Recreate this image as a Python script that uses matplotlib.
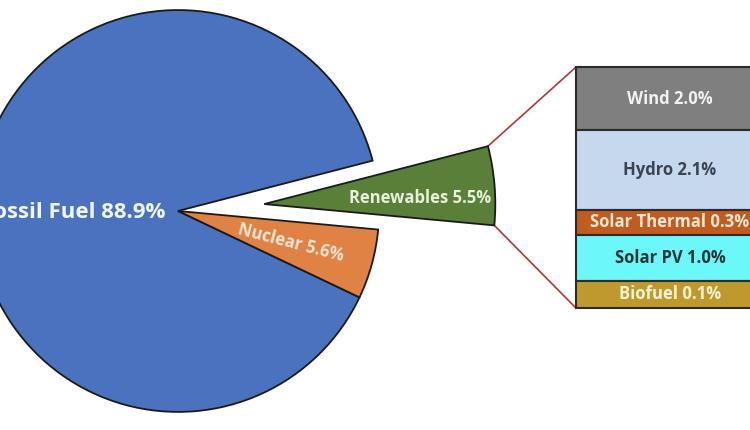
import numpy as np
import matplotlib.pyplot as plt

plt.rcParams['font.family'] = ['Open Sans', 'DejaVu Sans']

# main pie
sources = ['Fossil Fuel', 'Nuclear', 'Renewables']
source_share = [88.9, 5.6, 5.5]
source_colors = ['#4A72BE', '#E08244', '#5A7F38']
source_text_colors = ['#F4F7FF', '#FBE7D8', '#E6F2DA']

# renewables breakdown (top to bottom), shares in %
parts = ['Wind', 'Hydro', 'Solar Thermal', 'Solar PV', 'Biofuel']
part_share = [2.0, 2.1, 0.3, 1.0, 0.1]
# drawn band heights (not proportional to share)
part_band = [63, 79, 25, 46, 27]
part_colors = ['#7F7F7F', '#C6D8EE', '#C25B1E', '#6CF8F8', '#BE9A2E']
part_text_colors = ['#F2F2F2', '#3A4350', '#FBE9D6', '#1E3436', '#FFF3D6']

fig = plt.figure(figsize=(7.5, 4.3), dpi=100)
ax = fig.add_axes([0, 0, 1, 1])

wedges, _ = ax.pie(source_share, colors=source_colors, startangle=14.5,
                   explode=[0, 0, 0.43], radius=1.0,
                   wedgeprops=dict(edgecolor='#1a1a1a', linewidth=1.3))
ren = wedges[2]
ren.set_radius(1.15)

# labels on the pie (the fossil label runs off the left edge, as in the source)
ax.text(-0.065, -0.01, f'{sources[0]} {source_share[0]}%', ha='right', va='center',
        fontsize=16, fontweight='bold', color=source_text_colors[0])
ax.text(0.562, -0.159, f'{sources[1]} {source_share[1]}%', ha='center', va='center',
        fontsize=12, fontweight='bold', color=source_text_colors[1], rotation=-14.5)
ax.text(1.204, 0.065, f'{sources[2]} {source_share[2]}%', ha='center', va='center',
        fontsize=12, fontweight='bold', color=source_text_colors[2])

# stacked bar for renewables
bar_left, bar_right = 1.98, 2.915
bar_top, bar_bottom = 0.716, -0.483
heights = np.array(part_band, dtype=float)
heights = heights / heights.sum() * (bar_top - bar_bottom)
tops = bar_top - np.concatenate([[0], np.cumsum(heights)[:-1]])
bottoms = tops - heights
bar_center = (bar_left + bar_right) / 2
ax.bar([bar_center] * len(parts), heights, bottom=bottoms, width=bar_right - bar_left,
       color=part_colors, edgecolor='#2b2b2b', linewidth=1.5)
for name, share, b, h, tc in zip(parts, part_share, bottoms, heights, part_text_colors):
    ax.text(bar_center, b + h / 2, f'{name} {share}%', ha='center', va='center',
            fontsize=12, fontweight='bold', color=tc)

# connector lines from the exploded wedge to the bar
cx, cy = ren.center
r = ren.r
t1, t2 = np.deg2rad(ren.theta1), np.deg2rad(ren.theta2)
ax.plot([cx + r * np.cos(t2), bar_left], [cy + r * np.sin(t2), bar_top],
        color='#A83A3A', linewidth=1.2, zorder=0)
ax.plot([cx + r * np.cos(t1), bar_left], [cy + r * np.sin(t1), bar_bottom],
        color='#A83A3A', linewidth=1.2, zorder=0)

ax.set_xlim(-0.886, 2.846)
ax.set_ylim(-1.090, 1.050)
ax.set_aspect('auto')
ax.axis('off')

fig.savefig('out.png', dpi=100)
